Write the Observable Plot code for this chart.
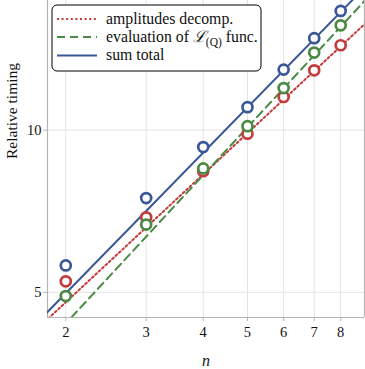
<!DOCTYPE html>
<html><head><meta charset="utf-8">
<script src="https://cdn.jsdelivr.net/npm/d3@7"></script>
<script src="https://cdn.jsdelivr.net/npm/@observablehq/plot@0.6"></script>
<style>
body{margin:0;background:#fff;}
#wrap{position:relative;width:365px;height:369px;}
</style></head><body><div id="wrap"></div>
<script>
const nValues = [2, 3, 4, 5, 6, 7, 8];
const amplitudes = [5.24, 6.89, 8.39, 9.85, 11.52, 12.91, 14.37];
const evaluation = [4.92, 6.68, 8.49, 10.17, 11.97, 13.93, 15.65];
const sumTotal = [5.61, 7.48, 9.30, 11.03, 12.95, 14.81, 16.64];
const fitN = [1.8, 9.2];
const fitAmplitudes = [4.41, 15.97];
const fitEvaluation = [3.975, 17.68];
const fitSum = [4.544, 18.70];
const xTicks = [2, 3, 4, 5, 6, 7, 8];
const yTicks = [5, 10];
const xDomain = [1.824, 9.02];
const yDomain = [4.49, 17.4];
const seriesNames = ["amplitudes decomp.", "evaluation of ℒ(Q) func.", "sum total"];
const seriesColors = ["#c53a3a", "#4a8a45", "#3a5898"];
const seriesDash = ["2,2.6", "8,5", null];

const seriesVals = [amplitudes, evaluation, sumTotal];
const seriesFits = [fitAmplitudes, fitEvaluation, fitSum];
const points = [];
seriesVals.forEach((vals, s) => vals.forEach((v, i) => points.push({s, n: nValues[i], v})));
const fits = seriesFits.map(f => fitN.map((n, i) => ({n, v: f[i]})));

const font = "Liberation Serif, serif";
const gridColor = "#e3e3e3";
const frameColor = "#b4b4b4";

const marks = [
  Plot.gridX({ticks: xTicks, stroke: gridColor, strokeOpacity: 1}),
  Plot.gridY({ticks: yTicks, stroke: gridColor, strokeOpacity: 1}),
  Plot.ruleX([xDomain[0], xDomain[1]], {stroke: frameColor, strokeWidth: 1.2}),
  Plot.ruleY([yDomain[0]], {stroke: frameColor, strokeWidth: 1.2}),
];
fits.forEach((f, s) => marks.push(Plot.line(f, {x: "n", y: "v", stroke: seriesColors[s], strokeWidth: 2, strokeDasharray: seriesDash[s], clip: true})));
[0, 1, 2].forEach(s => marks.push(Plot.dot(points.filter(p => p.s === s), {x: "n", y: "v", r: 5, stroke: seriesColors[s], strokeWidth: 2.7, fill: "white"})));
marks.push(
  Plot.axisX({ticks: xTicks, tickSize: 4, stroke: frameColor, tickPadding: 5, fontSize: 14.5, fill: "#111", tickFormat: d => String(d), label: null}),
  Plot.axisY({ticks: yTicks, tickSize: 4, stroke: frameColor, tickPadding: 2, fontSize: 14.5, fill: "#111", tickFormat: d => String(d), label: null}),
  Plot.text(["n"], {frameAnchor: "bottom", dy: 48, fontSize: 16, fontStyle: "italic", fill: "#111"}),
  Plot.text(["Relative timing"], {frameAnchor: "left", dx: -35, rotate: -90, fontSize: 15.5, fill: "#111"})
);

const chart = Plot.plot({
  width: 365, height: 369,
  marginLeft: 47, marginRight: 1, marginTop: 0, marginBottom: 52,
  style: {fontFamily: font, background: "#fff", overflow: "visible"},
  x: {type: "log", domain: xDomain, ticks: xTicks},
  y: {type: "log", domain: yDomain, ticks: yTicks},
  marks
});
document.getElementById("wrap").appendChild(chart);

// legend
const svg = d3.select(chart);
const lg = svg.append("g").attr("font-family", font).attr("font-size", 15.8).attr("fill", "#111")
  .attr("text-anchor", "start").style("font-family", font);
lg.append("rect").attr("x", 52).attr("y", 5).attr("width", 209).attr("height", 66).attr("rx", 5)
  .attr("fill", "white").attr("stroke", "black").attr("stroke-width", 1);
const rowY = [19, 37, 55.5];
seriesNames.forEach((name, s) => {
  lg.append("line").attr("x1", 57).attr("x2", 97).attr("y1", rowY[s]).attr("y2", rowY[s])
    .attr("stroke", seriesColors[s]).attr("stroke-width", 2).attr("stroke-dasharray", seriesDash[s]);
  const t = lg.append("text").attr("x", 106).attr("y", rowY[s] + 4.8).attr("text-anchor", "start");
  if (s === 1) {
    t.append("tspan").text("evaluation of ");
    t.append("tspan").attr("font-style", "italic").text("ℒ");
    t.append("tspan").attr("font-size", 11.5).attr("dy", 4).text("(Q)");
    t.append("tspan").attr("dy", -4).text(" func.");
  } else {
    t.text(name);
  }
});
</script>
</body></html>
